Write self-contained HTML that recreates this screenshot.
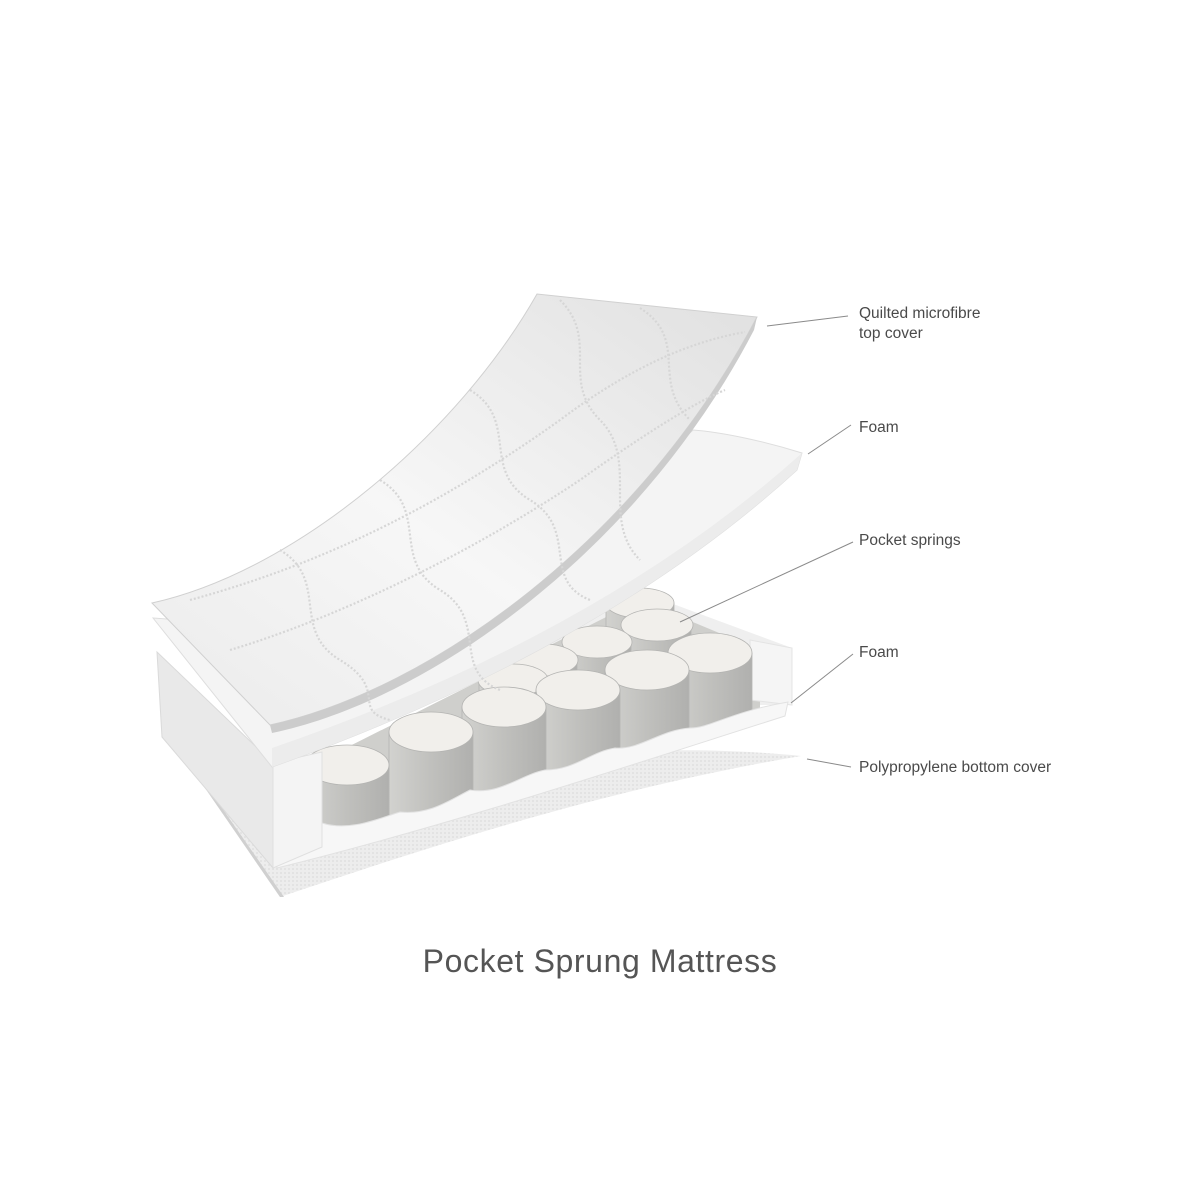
<!DOCTYPE html>
<html><head><meta charset="utf-8"><style>
html,body{margin:0;padding:0;background:#fff;}
svg{display:block;}
.l{font-family:"Liberation Sans",sans-serif;font-size:15.5px;fill:#4a4a4a;}
.t{font-family:"Liberation Sans",sans-serif;font-size:32px;fill:#555;letter-spacing:0.6px;}
</style></head><body>
<svg width="1200" height="1200" viewBox="0 0 1200 1200" xmlns="http://www.w3.org/2000/svg">
<defs>
<linearGradient id="cov" x1="0" y1="1" x2="1" y2="0">
<stop offset="0" stop-color="#ebebeb"/><stop offset="0.45" stop-color="#f7f7f7"/><stop offset="1" stop-color="#e0e0e0"/></linearGradient>
<linearGradient id="spr" x1="0" y1="0" x2="1" y2="0">
<stop offset="0" stop-color="#d2d2cf"/><stop offset="0.5" stop-color="#c0c0bd"/><stop offset="1" stop-color="#b0b0ae"/></linearGradient>
<pattern id="mesh" width="4" height="4" patternUnits="userSpaceOnUse">
<rect width="4" height="4" fill="#ededed"/><rect width="2" height="2" fill="#e3e3e3"/></pattern>
<clipPath id="cav"><path d="M300,560 L800,560 L785,712 L277,862 Z"/></clipPath>
</defs>
<!-- bottom cover -->
<path d="M163,727 L280,897 C420,850 600,790 801,756 C720,748 600,745 480,770 C380,785 260,780 163,727 Z" fill="url(#mesh)"/>
<path d="M163,727 L280,897 L284,897 L167,729 Z" fill="#d0d0d0"/>
<!-- back wall -->
<path d="M500,640 L630,588 L792,648 L792,705 L500,705 Z" fill="#efefef"/>
<g clip-path="url(#cav)">
<path d="M322,760 L640,600 L760,650 L760,720 L322,840 Z" fill="#cfcfcc"/>
<g stroke="#b4b4b2" stroke-width="0.8">
<rect x="606" y="603" width="68" height="45" fill="url(#spr)"/><ellipse cx="640" cy="603" rx="34" ry="15" fill="#f1efeb"/>
<rect x="623" y="625" width="68" height="55" fill="url(#spr)"/><ellipse cx="657" cy="625" rx="36" ry="16" fill="#f1efeb"/>
<rect x="563" y="642" width="68" height="55" fill="url(#spr)"/><ellipse cx="597" cy="642" rx="35" ry="16" fill="#f1efeb"/>
<rect x="509" y="660" width="68" height="55" fill="url(#spr)"/><ellipse cx="543" cy="660" rx="35" ry="16" fill="#f1efeb"/>
<rect x="479" y="680" width="68" height="55" fill="url(#spr)"/><ellipse cx="513" cy="680" rx="35" ry="16" fill="#f1efeb"/>
</g>
</g>
<!-- right block -->
<path d="M750,640 L792,648 L792,705 L750,700 Z" fill="#f5f5f5" stroke="#e4e4e4"/>
<g clip-path="url(#cav)" stroke="#b4b4b2" stroke-width="0.8">
<rect x="668" y="653" width="84" height="75" fill="url(#spr)"/><ellipse cx="710" cy="653" rx="42" ry="20" fill="#f1efeb"/>
<rect x="605" y="670" width="84" height="78" fill="url(#spr)"/><ellipse cx="647" cy="670" rx="42" ry="20" fill="#f1efeb"/>
<rect x="536" y="690" width="84" height="80" fill="url(#spr)"/><ellipse cx="578" cy="690" rx="42" ry="20" fill="#f1efeb"/>
<rect x="462" y="707" width="84" height="88" fill="url(#spr)"/><ellipse cx="504" cy="707" rx="42" ry="20" fill="#f1efeb"/>
<rect x="389" y="732" width="84" height="90" fill="url(#spr)"/><ellipse cx="431" cy="732" rx="42" ry="20" fill="#f1efeb"/>
<rect x="305" y="765" width="84" height="80" fill="url(#spr)"/><ellipse cx="347" cy="765" rx="42" ry="20" fill="#f1efeb"/>
</g>
<!-- bottom foam strip -->
<path d="M322,823 C350,832 380,818 400,812 C430,815 450,800 470,790 C500,795 520,775 545,770 C575,770 590,752 615,748 C640,750 660,730 690,728 C710,728 730,712 788,702 L785,716 C600,775 450,825 277,868 L273,847 Z" fill="#f7f7f7" stroke="#e2e2e2"/>
<!-- left block -->
<path d="M157,652 L273,763 L273,868 L162,737 Z" fill="#e9e9e9" stroke="#dadada"/>
<path d="M273,763 L322,752 L322,847 L273,868 Z" fill="#f4f4f4" stroke="#e0e0e0"/>
<!-- top foam sheet -->
<path d="M153,618 L272,767 Q600,650 797,470 L802,453 C760,440 720,432 693,430 C600,520 420,640 153,618 Z" fill="#f4f4f4" stroke="#dedede"/>
<path d="M272,748 Q600,635 802,453 L797,470 Q600,650 272,767 Z" fill="#ececec"/>
<!-- quilted cover -->
<path d="M152,603 L270,725 C430,690 640,540 757,317 L537,294 C460,430 300,570 152,603 Z" fill="url(#cov)" stroke="#d0d0d0"/>
<path d="M270,725 C430,690 640,540 757,317 L754,330 C640,550 430,700 272,733 Z" fill="#cccccc"/>
<g fill="none" stroke="#d6d6d6" stroke-width="2.2" stroke-dasharray="2 2">
<path d="M560,300 C600,340 560,380 600,420 C640,460 600,520 640,560"/>
<path d="M640,308 C690,340 650,380 690,420"/>
<path d="M470,390 C520,420 480,470 530,500 C580,530 540,580 590,600"/>
<path d="M380,480 C430,510 390,560 440,590 C490,620 450,670 500,690"/>
<path d="M280,550 C330,580 290,630 340,660 C390,690 350,710 390,720"/>
<path d="M190,600 C300,570 420,520 560,420 C640,360 700,340 745,332"/>
<path d="M230,650 C330,620 460,560 580,480 C650,430 700,400 725,390"/>
</g>
<g stroke="#8a8a8a" stroke-width="1" fill="none">
<line x1="767" y1="326" x2="848" y2="316"/>
<line x1="808" y1="454" x2="851" y2="425"/>
<line x1="680" y1="622" x2="853" y2="542"/>
<line x1="791" y1="703" x2="853" y2="654"/>
<line x1="807" y1="759" x2="851" y2="767"/>
</g>
<text class="l" x="859" y="318">Quilted microfibre</text>
<text class="l" x="859" y="338">top cover</text>
<text class="l" x="859" y="432">Foam</text>
<text class="l" x="859" y="545">Pocket springs</text>
<text class="l" x="859" y="657">Foam</text>
<text class="l" x="859" y="772">Polypropylene bottom cover</text>
<text class="t" x="600" y="972" text-anchor="middle">Pocket Sprung Mattress</text>
</svg>
</body></html>
